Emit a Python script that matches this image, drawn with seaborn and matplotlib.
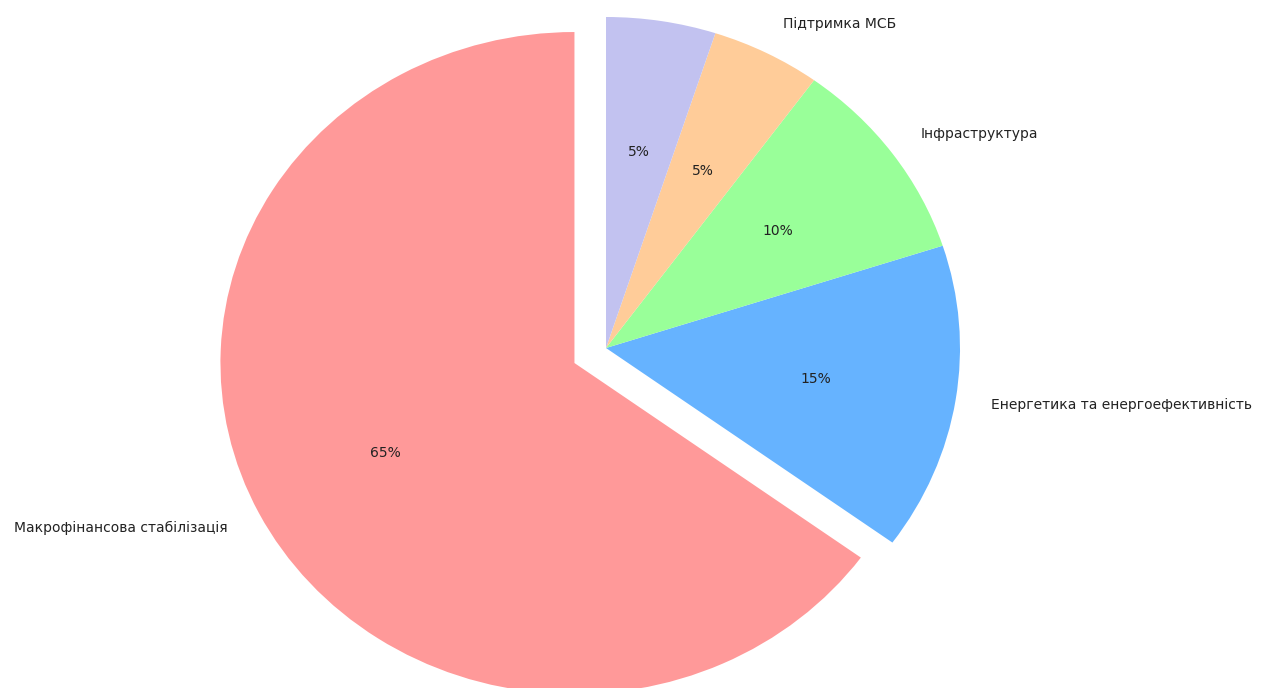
import matplotlib
matplotlib.use("Agg")
import matplotlib.pyplot as plt
import seaborn as sns

sns.set_theme(style="white")
plt.rcParams["font.family"] = ["DejaVu Sans"]

# Funding areas and their shares (%)
categories = [
    "Макрофінансова стабілізація",
    "Енергетика та енергоефективність",
    "Інфраструктура",
    "Підтримка МСБ",
    "",
]
shares = [65, 15, 10, 5, 5]
colors = ["#ff9999", "#66b3ff", "#99ff99", "#ffcc99", "#c2c2f0"]
explode = [0.1, 0, 0, 0, 0]

fig = plt.figure(figsize=(12.62, 6.88), dpi=100)
ax = fig.add_axes([0, 0, 1, 1])
ax.pie(
    shares,
    labels=categories,
    colors=colors,
    explode=explode,
    autopct="%1.0f%%",
    startangle=90,
    wedgeprops={"linewidth": 0},
    textprops={"fontsize": 10, "color": "#222222"},
)
# Slightly wider than tall, as in the published layout
ax.set_aspect("auto")
ax.set_xlim(-606 / 354, 656 / 354)
ax.set_ylim(-340 / 331, 348 / 331)
ax.axis("off")

fig.savefig("out.png", dpi=100)
